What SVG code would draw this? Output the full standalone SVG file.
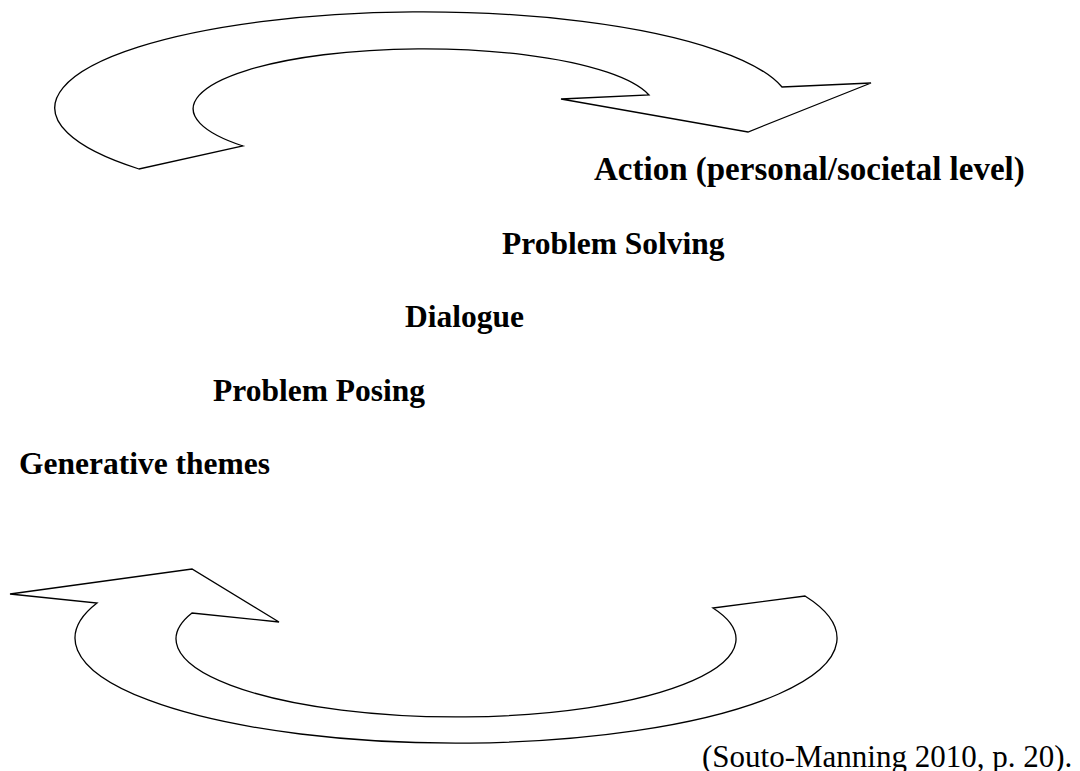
<svg xmlns="http://www.w3.org/2000/svg" width="1080" height="771" viewBox="0 0 1080 771">
<style>
.arrow{fill:#fff;stroke:#000;stroke-width:1.3;stroke-linejoin:miter}
.lbl{font-family:"Liberation Serif","Times New Roman",serif;font-weight:bold;font-size:31.5px;fill:#000}
.cite{font-family:"Liberation Serif","Times New Roman",serif;font-size:31px;fill:#000}
</style>
<rect width="1080" height="771" fill="#fff"/>
<g id="connectors">
<path id="top-arrow" class="arrow" d="M139,169 A368,96 0 1 1 782,87 L871,83 L748,132 L561,99 L649,95 A231,60 0 1 0 243,146 Z"/>
<path id="bottom-arrow" class="arrow" d="M10,594 L192,569 L279,622 L192,613 A280,78 0 1 0 713,608 L805,596 A381,105 0 1 1 97,603 Z"/>
</g>
<g id="action"><text class="lbl" x="594" y="180" style="font-size:33px">Action (personal/societal level)</text></g>
<g id="problem-solving"><text class="lbl" x="502" y="254">Problem Solving</text></g>
<g id="dialogue"><text class="lbl" x="405" y="327">Dialogue</text></g>
<g id="problem-posing"><text class="lbl" x="213" y="401">Problem Posing</text></g>
<g id="generative-themes"><text class="lbl" x="19" y="474">Generative themes</text></g>
<g id="citation"><text class="cite" x="702" y="767">(Souto-Manning 2010, p. 20).</text></g>
</svg>
